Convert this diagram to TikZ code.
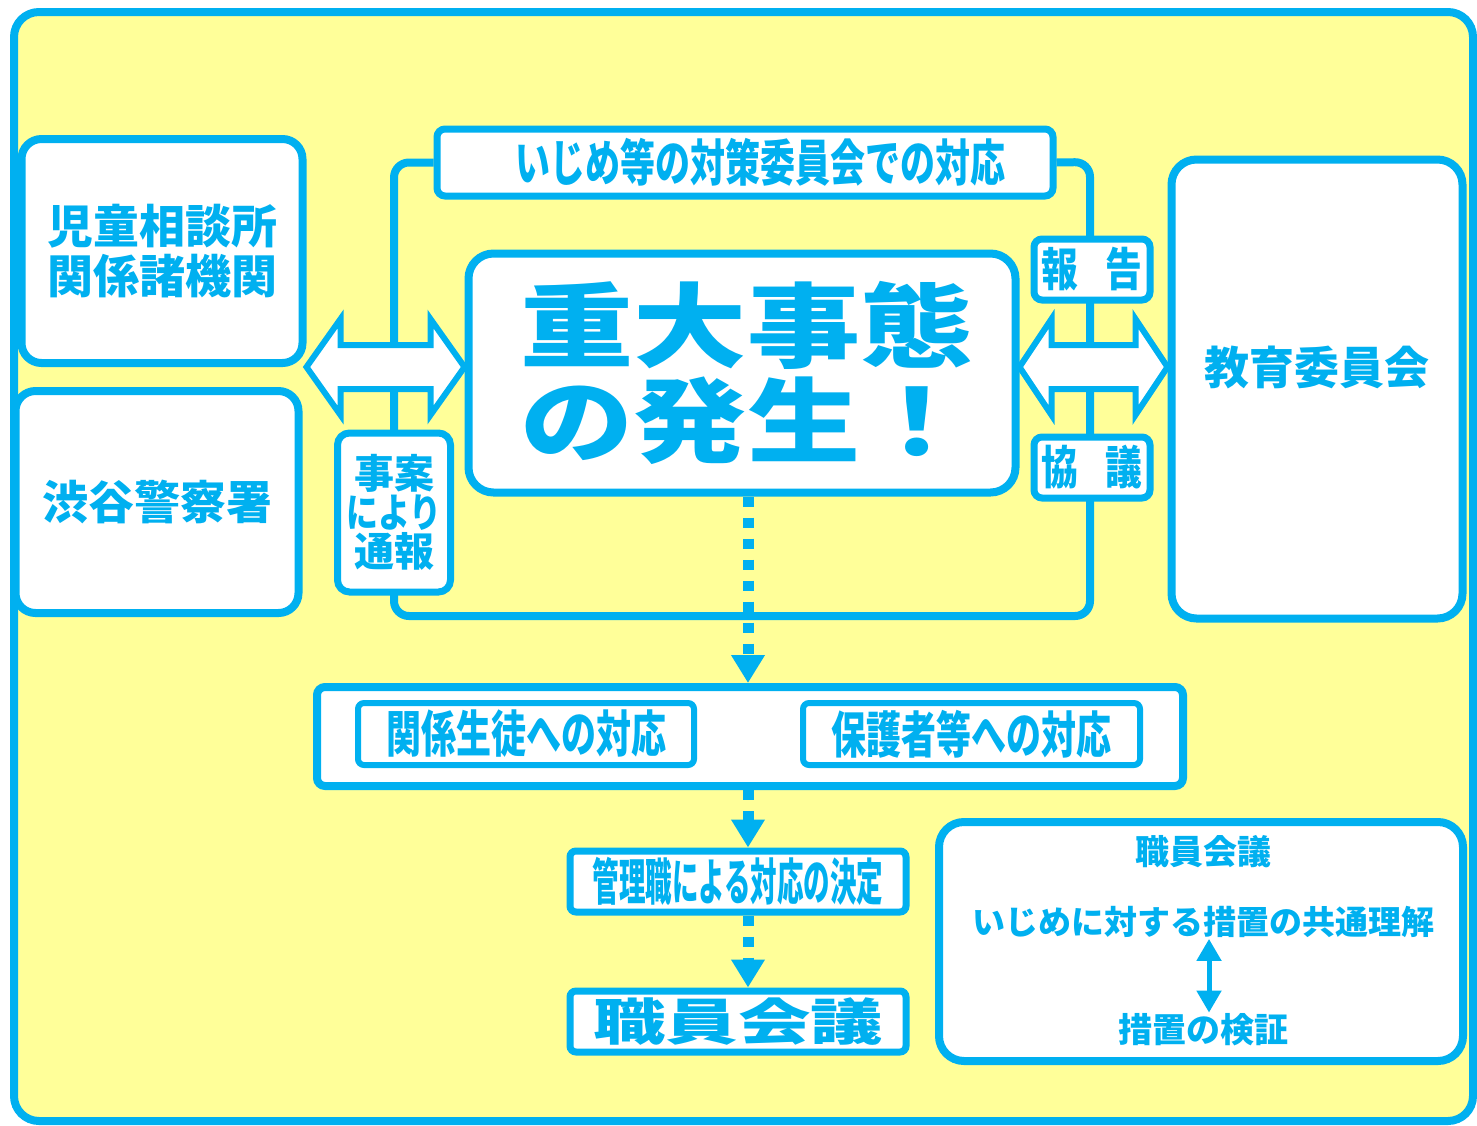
\documentclass[tikz,border=0pt]{standalone}
\usepackage{fontspec}
\usetikzlibrary{arrows.meta, calc}
\newfontfamily\jp{Noto Sans CJK JP}
\newfontfamily\jpmid{Noto Sans CJK JP}[FakeStretch=0.8]
\newfontfamily\jpnarrow{Noto Sans CJK JP}[FakeStretch=0.7]
\newfontfamily\jpslim{Noto Sans CJK JP}[FakeStretch=0.53]
\newfontfamily\jptitle{Noto Sans CJK JP}[FakeStretch=1.23]
\newfontfamily\jpwide{Noto Sans CJK JP}[FakeStretch=1.45]
\definecolor{sky}{HTML}{00B0F0}
\definecolor{cream}{HTML}{FFFF99}

\begin{document}
\begin{tikzpicture}[x=1pt, y=-1pt,
    box/.style = {draw=sky, line width=8pt, fill=white, rounded corners=20pt, inner sep=0pt, text=sky},
    tag/.style = {draw=sky, line width=7pt, fill=white, rounded corners=8pt, inner sep=0pt, text=sky},
    inner/.style = {draw=sky, line width=6pt, fill=white, rounded corners=6pt, inner sep=0pt, text=sky},
    txt/.style = {text=sky, inner sep=1pt},
    wire/.style = {draw=sky, line width=8pt, rounded corners=15pt},
    dblarrow/.style = {draw=sky, line width=6pt, fill=white},
    flow/.style = {draw=sky, line width=11pt, dash pattern=on 10pt off 11pt, -{Triangle[width=32pt,length=28pt]}},
    both/.style = {draw=sky, line width=5pt, {Triangle[width=24pt,length=22pt]}-{Triangle[width=24pt,length=22pt]}}]
    \useasboundingbox (0,0) rectangle (1477,1125);
    \draw[draw=sky, line width=8pt, fill=cream, rounded corners=25pt] (14,12) rectangle (1473,1121);

    % committee bracket
    \node[tag, minimum width=616pt, minimum height=67pt, font=\jpnarrow\bfseries\fontsize{50pt}{54pt}\selectfont] (taisaku) at (745,162.5) {\hspace{30pt}いじめ等の対策委員会での対応};
    \coordinate (bl) at (394,616);
    \coordinate (tr) at (1090,162);
    \draw[wire] (taisaku.west) -| (bl) -| (tr) -- (taisaku.east);

    % boxes of the upper part
    \node[box, minimum width=281pt, minimum height=224pt, align=center, font=\jp\bfseries\fontsize{46pt}{50pt}\selectfont] (soudan) at (162,251) {児童相談所\\関係諸機関};
    \node[box, minimum width=283pt, minimum height=222pt, font=\jp\bfseries\fontsize{46pt}{50pt}\selectfont] (keisatsu) at (157,502) {渋谷警察署};
    \node[box, rounded corners=25pt, minimum width=547pt, minimum height=239pt, align=center, font=\jptitle\bfseries\fontsize{92pt}{95pt}\selectfont] (hassei) at (742,373) {\hspace{10pt}重大事態\\\hspace{10pt}の発生！};
    \node[box, rounded corners=25pt, minimum width=291pt, minimum height=459pt,
        label={[name=kyoikut, txt, yshift=22pt, font=\jp\bfseries\fontsize{45pt}{50pt}\selectfont]center:教育委員会}] (kyoiku) at (1317,389) {};
    \node[tag, minimum width=116pt, minimum height=61pt, font=\jpmid\bfseries\fontsize{46pt}{50pt}\selectfont] (hokoku) at (1092,269.5) {報\hspace{28pt}告};
    \node[tag, minimum width=116pt, minimum height=61pt, font=\jpmid\bfseries\fontsize{46pt}{50pt}\selectfont] (kyogi) at (1092,467.5) {協\hspace{28pt}議};
    \node[tag, rounded corners=12pt, minimum width=113pt, minimum height=159pt, align=center, font=\jp\bfseries\fontsize{40pt}{39pt}\selectfont] (jian) at (394,512.5) {事案\\{\jpmid により}\\通報};

    % two-way arrows
    \draw[dblarrow] (soudan.south east) -- ++(34,-48) -- ++(0,26) -- ++(90,0) -- ++(0,-26) -- ++(34,48)
        -- ++(-34,48) -- ++(0,-26) -- ++(-90,0) -- ++(0,26) -- cycle;
    \draw[dblarrow] (hassei.east |- soudan.south east) -- ++(32,-48) -- ++(0,26) -- ++(84,0) -- ++(0,-26) -- ++(32,48)
        -- ++(-32,48) -- ++(0,-26) -- ++(-84,0) -- ++(0,26) -- cycle;

    % lower part
    \node[tag, line width=8pt, minimum width=866pt, minimum height=99pt] (taiou) at (750,736.5) {};
    \node[inner, minimum width=336pt, minimum height=62pt, font=\jpnarrow\bfseries\fontsize{50pt}{54pt}\selectfont] (seito) at (526,734) {関係生徒への対応};
    \node[inner, minimum width=337pt, minimum height=62pt, font=\jpnarrow\bfseries\fontsize{50pt}{54pt}\selectfont] (hogosha) at (971.5,734) {保護者等への対応};
    \node[tag, rounded corners=6pt, minimum width=336pt, minimum height=61pt, font=\jpslim\bfseries\fontsize{50pt}{54pt}\selectfont] (kanri) at (738,881.5) {管理職による対応の決定};
    \node[tag, rounded corners=6pt, minimum width=336pt, minimum height=61pt, font=\jpwide\bfseries\fontsize{50pt}{54pt}\selectfont] (shokuin) at (738,1021.5) {職員会議};

    \coordinate (axis) at (748,0);
    \draw[flow] (hassei.south -| axis) -- (taiou.north -| axis);
    \draw[flow] (taiou.south -| axis) -- (kanri.north -| axis);
    \draw[flow] (kanri.south -| axis) -- (shokuin.north -| axis);

    % staff meeting box
    \node[box, rounded corners=25pt, minimum width=524pt, minimum height=239pt] (matome) at (1201,941.5) {};
    \node[txt, font=\jp\bfseries\fontsize{34pt}{38pt}\selectfont] (m1) at (1203,852) {職員会議};
    \node[txt, font=\jp\bfseries\fontsize{33pt}{38pt}\selectfont] (m2) at (1203,922) {いじめに対する措置の共通理解};
    \node[txt, font=\jp\bfseries\fontsize{34pt}{38pt}\selectfont] (m3) at (1203,1030) {措置の検証};
    \coordinate (vx) at (1209,0);
    \draw[both] (m2.south -| vx) -- (m3.north -| vx);
\end{tikzpicture}
\end{document}
